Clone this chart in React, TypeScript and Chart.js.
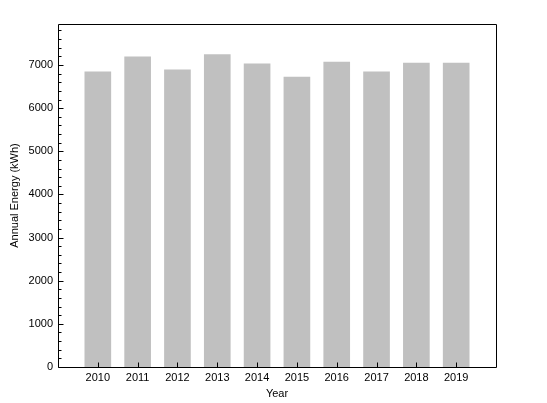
import React, { useEffect, useRef } from "react";
import { Chart, registerables } from "chart.js";

Chart.register(...registerables);

const years = [2010, 2011, 2012, 2013, 2014, 2015, 2016, 2017, 2018, 2019];
const energy = [6840, 7190, 6885, 7240, 7025, 6720, 7070, 6840, 7045, 7045];
const yMajorTicks = [0, 1000, 2000, 3000, 4000, 5000, 6000, 7000];
const yMinorTicks = [
  200, 400, 600, 800, 1200, 1400, 1600, 1800, 2200, 2400, 2600, 2800, 3200, 3400, 3600, 3800,
  4200, 4400, 4600, 4800, 5200, 5400, 5600, 5800, 6200, 6400, 6600, 6800, 7200, 7400, 7600, 7800,
];

const FONT = "'Liberation Sans', Arial, sans-serif";

const framePlugin = {
  id: "frame",
  afterDraw(chart: any) {
    const { ctx, chartArea } = chart;
    const xs = chart.scales.x;
    const ys = chart.scales.y;
    const l = Math.round(chartArea.left) + 0.5;
    const r = Math.round(chartArea.right) + 0.5;
    const t = Math.round(chartArea.top) + 0.5;
    const b = Math.round(chartArea.bottom) + 0.5;
    ctx.save();
    ctx.strokeStyle = "#000";
    ctx.lineWidth = 1;
    ctx.beginPath();
    ctx.rect(l, t, r - l, b - t);
    years.forEach((yr) => {
      const px = Math.round(xs.getPixelForValue(yr)) + 0.5;
      ctx.moveTo(px, b);
      ctx.lineTo(px, b - 5);
    });
    yMajorTicks.forEach((v) => {
      const py = Math.round(ys.getPixelForValue(v)) + 0.5;
      ctx.moveTo(l, py);
      ctx.lineTo(l + 5, py);
    });
    yMinorTicks.forEach((v) => {
      const py = Math.round(ys.getPixelForValue(v)) + 0.5;
      ctx.moveTo(l, py);
      ctx.lineTo(l + 3, py);
    });
    ctx.stroke();
    ctx.restore();
  },
};

export default function App() {
  const ref = useRef<HTMLCanvasElement | null>(null);
  useEffect(() => {
    if (!ref.current) return;
    const chart = new Chart(ref.current, {
      type: "bar",
      data: {
        datasets: [
          {
            data: years.map((y, i) => ({ x: y, y: energy[i] })),
            backgroundColor: "#c0c0c0",
            borderWidth: 0,
            barThickness: 26,
          },
        ],
      },
      options: {
        animation: false,
        responsive: true,
        maintainAspectRatio: false,
        layout: { padding: { left: 0, right: 51, top: 24, bottom: 0 } },
        plugins: { legend: { display: false }, tooltip: { enabled: false } },
        scales: {
          x: {
            type: "linear",
            min: 2009,
            max: 2020,
            offset: false,
            afterFit: (s: any) => {
              s.height = 36;
            },
            afterBuildTicks: (s: any) => {
              s.ticks = years.map((v) => ({ value: v }));
            },
            ticks: {
              autoSkip: false,
              maxRotation: 0,
              color: "#000",
              padding: 4,
              font: { family: FONT, size: 11 },
              callback: (v: any) => String(v),
            },
            grid: { display: false, drawTicks: false },
            border: { display: false },
            title: {
              display: true,
              text: "Year",
              color: "#000",
              font: { family: FONT, size: 11 },
              padding: { top: 0, bottom: 2 },
            },
          },
          y: {
            min: 0,
            max: 7950,
            afterFit: (s: any) => {
              s.width = 58;
            },
            afterBuildTicks: (s: any) => {
              s.ticks = yMajorTicks.map((v) => ({ value: v }));
            },
            ticks: {
              color: "#000",
              padding: 5,
              font: { family: FONT, size: 11 },
              callback: (v: any) => String(v),
            },
            grid: { display: false, drawTicks: false },
            border: { display: false },
            title: {
              display: true,
              text: "Annual Energy (kWh)",
              color: "#000",
              font: { family: FONT, size: 11 },
              padding: { top: 8, bottom: 0 },
            },
          },
        },
      },
      plugins: [framePlugin],
    });
    return () => chart.destroy();
  }, []);
  return (
    <div style={{ position: "absolute", left: 0, top: 0, width: 547, height: 403, background: "#fff" }}>
      <canvas ref={ref} />
    </div>
  );
}
